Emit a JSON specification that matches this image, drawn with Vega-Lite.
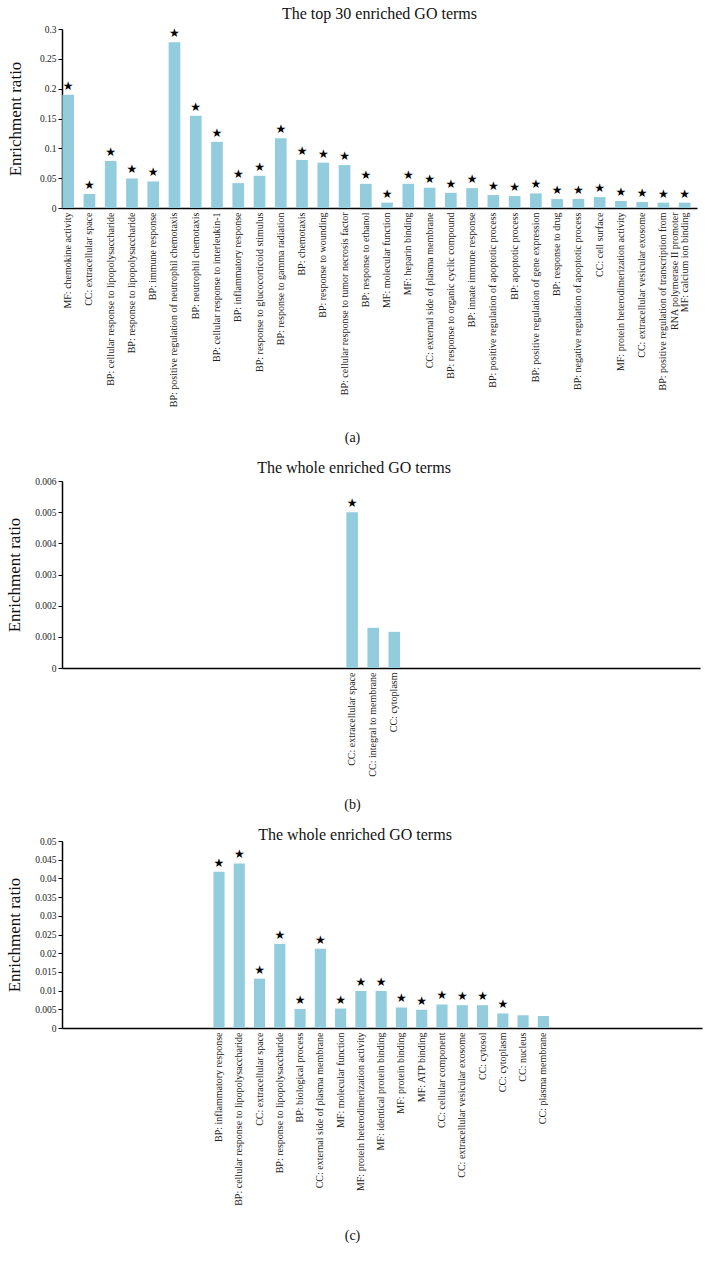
{
  "$schema": "https://vega.github.io/schema/vega-lite/v6.json",
  "background": "white",
  "padding": {"left": 5, "top": 6, "right": 5, "bottom": 5},
  "spacing": 16,
  "datasets": {
    "panelA": [
      {"term": "MF: chemokine activity", "ratio": 0.19, "sig": true},
      {"term": "CC: extracellular space", "ratio": 0.0233, "sig": true},
      {"term": "BP: cellular response to lipopolysaccharide", "ratio": 0.079, "sig": true},
      {"term": "BP: response to lipopolysaccharide", "ratio": 0.0495, "sig": true},
      {"term": "BP: immune response", "ratio": 0.0445, "sig": true},
      {"term": "BP: positive regulation of neutrophil chemotaxis", "ratio": 0.278, "sig": true},
      {"term": "BP: neutrophil chemotaxis", "ratio": 0.1545, "sig": true},
      {"term": "BP: cellular response to interleukin-1", "ratio": 0.111, "sig": true},
      {"term": "BP: inflammatory response", "ratio": 0.0417, "sig": true},
      {"term": "BP: response to glucocorticoid stimulus", "ratio": 0.054, "sig": true},
      {"term": "BP: response to gamma radiation", "ratio": 0.117, "sig": true},
      {"term": "BP: chemotaxis", "ratio": 0.0805, "sig": true},
      {"term": "BP: response to wounding", "ratio": 0.076, "sig": true},
      {"term": "BP: cellular response to tumor necrosis factor", "ratio": 0.072, "sig": true},
      {"term": "BP: response to ethanol", "ratio": 0.0405, "sig": true},
      {"term": "MF: molecular function", "ratio": 0.009, "sig": true},
      {"term": "MF: heparin binding", "ratio": 0.0405, "sig": true},
      {"term": "CC: external side of plasma membrane", "ratio": 0.034, "sig": true},
      {"term": "BP: response to organic cyclic compound", "ratio": 0.0255, "sig": true},
      {"term": "BP: innate immune response", "ratio": 0.0333, "sig": true},
      {"term": "BP: positive regulation of apoptotic process", "ratio": 0.0217, "sig": true},
      {"term": "BP: apoptotic process", "ratio": 0.02, "sig": true},
      {"term": "BP: positive regulation of gene expression", "ratio": 0.0245, "sig": true},
      {"term": "BP: response to drug", "ratio": 0.015, "sig": true},
      {"term": "BP: negative regulation of apoptotic process", "ratio": 0.015, "sig": true},
      {"term": "CC: cell surface", "ratio": 0.0183, "sig": true},
      {"term": "MF: protein heterodimerization activity", "ratio": 0.0117, "sig": true},
      {"term": "CC: extracellular vesicular exosome", "ratio": 0.01, "sig": true},
      {"term": "BP: positive regulation of transcription from RNA polymerase II promoter", "ratio": 0.009, "sig": true},
      {"term": "MF: calcium ion binding", "ratio": 0.009, "sig": true}
    ],
    "panelB": [
      {"term": "CC: extracellular space", "ratio": 0.005, "sig": true},
      {"term": "CC: integral to membrane", "ratio": 0.00129, "sig": false},
      {"term": "CC: cytoplasm", "ratio": 0.00116, "sig": false}
    ],
    "panelC": [
      {"term": "BP: inflammatory response", "ratio": 0.0418, "sig": true},
      {"term": "BP: cellular response to lipopolysaccharide", "ratio": 0.044, "sig": true},
      {"term": "CC: extracellular space", "ratio": 0.0132, "sig": true},
      {"term": "BP: response to lipopolysaccharide", "ratio": 0.0225, "sig": true},
      {"term": "BP: biological process", "ratio": 0.0051, "sig": true},
      {"term": "CC: external side of plasma membrane", "ratio": 0.0212, "sig": true},
      {"term": "MF: molecular function", "ratio": 0.0052, "sig": true},
      {"term": "MF: protein heterodimerization activity", "ratio": 0.0099, "sig": true},
      {"term": "MF: identical protein binding", "ratio": 0.0099, "sig": true},
      {"term": "MF: protein binding", "ratio": 0.0055, "sig": true},
      {"term": "MF: ATP binding", "ratio": 0.0049, "sig": true},
      {"term": "CC: cellular component", "ratio": 0.0063, "sig": true},
      {"term": "CC: extracellular vesicular exosome", "ratio": 0.0061, "sig": true},
      {"term": "CC: cytosol", "ratio": 0.0061, "sig": true},
      {"term": "CC: cytoplasm", "ratio": 0.0039, "sig": true},
      {"term": "CC: nucleus", "ratio": 0.0034, "sig": false},
      {"term": "CC: plasma membrane", "ratio": 0.0032, "sig": false}
    ]
  },
  "vconcat": [
    {
      "title": {"text": "The top 30 enriched GO terms", "offset": 2},
      "width": 635,
      "height": 179,
      "data": {"name": "panelA"},
      "encoding": {
        "x": {
          "field": "term", "type": "nominal", "sort": null,
          "scale": {"paddingInner": 0.45, "paddingOuter": 0.16, "align": 0.05},
          "axis": {
            "title": "(a)", "titleX": 290, "titleY": 229, "titleAlign": "center", "titleBaseline": "middle",
            "titleFontSize": 14, "labelAngle": -90, "labelFontSize": 10, "labelLimit": 400,
            "ticks": false, "labelPadding": 4, "domainWidth": 1.5,
            "labelExpr": "datum.label == 'BP: positive regulation of transcription from RNA polymerase II promoter' ? ['BP: positive regulation of transcription from', 'RNA polymerase II promoter'] : datum.label"
          }
        },
        "y": {
          "field": "ratio", "type": "quantitative",
          "scale": {"domain": [0, 0.3], "nice": false},
          "axis": {"title": "Enrichment ratio", "values": [0, 0.05, 0.1, 0.15, 0.2, 0.25, 0.3], "format": "~g",
                   "grid": false, "labelFontSize": 9.5, "tickSize": 4, "titleFontSize": 17, "titlePadding": 15, "domainWidth": 1.5}
        }
      },
      "layer": [
        {"mark": {"type": "bar", "color": "#93CDDD"}},
        {"transform": [{"filter": "datum.sig"}],
         "mark": {"type": "text", "text": "★", "font": "DejaVu Sans", "fontSize": 12, "baseline": "middle", "dy": -9, "color": "#000"}}
      ]
    },
    {
      "title": {"text": "The whole enriched GO terms", "offset": 0, "dx": -27},
      "width": 638,
      "height": 187,
      "data": {"name": "panelB"},
      "encoding": {
        "x": {
          "field": "term", "type": "nominal", "sort": null,
          "scale": {"paddingInner": 0.45, "paddingOuter": 0.36, "align": 0.68,
            "domain": ["b01","b02","b03","b04","b05","b06","b07","b08","b09","b10","b11","b12","b13",
                       "CC: extracellular space", "CC: integral to membrane", "CC: cytoplasm",
                       "b14","b15","b16","b17","b18","b19","b20","b21","b22","b23","b24","b25","b26","b27"]},
          "axis": {
            "title": "(b)", "titleX": 290, "titleY": 136, "titleAlign": "center", "titleBaseline": "middle",
            "titleFontSize": 14, "labelAngle": -90, "labelFontSize": 10, "labelLimit": 400,
            "ticks": false, "labelPadding": 4, "domainWidth": 1.5,
            "labelExpr": "indexof(datum.label, ':') < 0 ? '' : datum.label"
          }
        },
        "y": {
          "field": "ratio", "type": "quantitative",
          "scale": {"domain": [0, 0.006], "nice": false},
          "axis": {"title": "Enrichment ratio", "values": [0, 0.001, 0.002, 0.003, 0.004, 0.005, 0.006], "format": "~g",
                   "grid": false, "labelFontSize": 9.5, "tickSize": 4, "titleFontSize": 17, "titlePadding": 11, "domainWidth": 1.5}
        }
      },
      "layer": [
        {"mark": {"type": "bar", "color": "#93CDDD"}},
        {"transform": [{"filter": "datum.sig"}],
         "mark": {"type": "text", "text": "★", "font": "DejaVu Sans", "fontSize": 12, "baseline": "middle", "dy": -9, "color": "#000"}}
      ]
    },
    {
      "title": {"text": "The whole enriched GO terms", "offset": -7, "dx": -27},
      "width": 640,
      "height": 187,
      "data": {"name": "panelC"},
      "encoding": {
        "x": {
          "field": "term", "type": "nominal", "sort": null,
          "scale": {"paddingInner": 0.45, "paddingOuter": 0.51, "align": 0.46,
            "domain": ["c01","c02","c03","c04","c05","c06","c07",
                       "BP: inflammatory response", "BP: cellular response to lipopolysaccharide", "CC: extracellular space",
                       "BP: response to lipopolysaccharide", "BP: biological process", "CC: external side of plasma membrane",
                       "MF: molecular function", "MF: protein heterodimerization activity", "MF: identical protein binding",
                       "MF: protein binding", "MF: ATP binding", "CC: cellular component", "CC: extracellular vesicular exosome",
                       "CC: cytosol", "CC: cytoplasm", "CC: nucleus", "CC: plasma membrane",
                       "c08","c09","c10","c11","c12","c13","c14"]},
          "axis": {
            "title": "(c)", "titleX": 290, "titleY": 207, "titleAlign": "center", "titleBaseline": "middle",
            "titleFontSize": 14, "labelAngle": -90, "labelFontSize": 10, "labelLimit": 400,
            "ticks": false, "labelPadding": 4, "domainWidth": 1.5,
            "labelExpr": "indexof(datum.label, ':') < 0 ? '' : datum.label"
          }
        },
        "y": {
          "field": "ratio", "type": "quantitative",
          "scale": {"domain": [0, 0.05], "nice": false},
          "axis": {"title": "Enrichment ratio", "values": [0, 0.005, 0.01, 0.015, 0.02, 0.025, 0.03, 0.035, 0.04, 0.045, 0.05], "format": "~g",
                   "grid": false, "labelFontSize": 9.5, "tickSize": 4, "titleFontSize": 17, "titlePadding": 11, "domainWidth": 1.5}
        }
      },
      "layer": [
        {"mark": {"type": "bar", "color": "#93CDDD"}},
        {"transform": [{"filter": "datum.sig"}],
         "mark": {"type": "text", "text": "★", "font": "DejaVu Sans", "fontSize": 12, "baseline": "middle", "dy": -9, "color": "#000"}}
      ]
    }
  ],
  "config": {
    "view": {"stroke": null},
    "font": "Liberation Serif",
    "axis": {"labelFont": "Liberation Serif", "titleFont": "Liberation Serif", "domainColor": "#000", "tickColor": "#000",
             "labelColor": "#222", "titleColor": "#111", "titleFontWeight": "normal"},
    "title": {"font": "Liberation Serif", "fontSize": 16, "fontWeight": "normal", "color": "#111", "anchor": "middle"}
  }
}
